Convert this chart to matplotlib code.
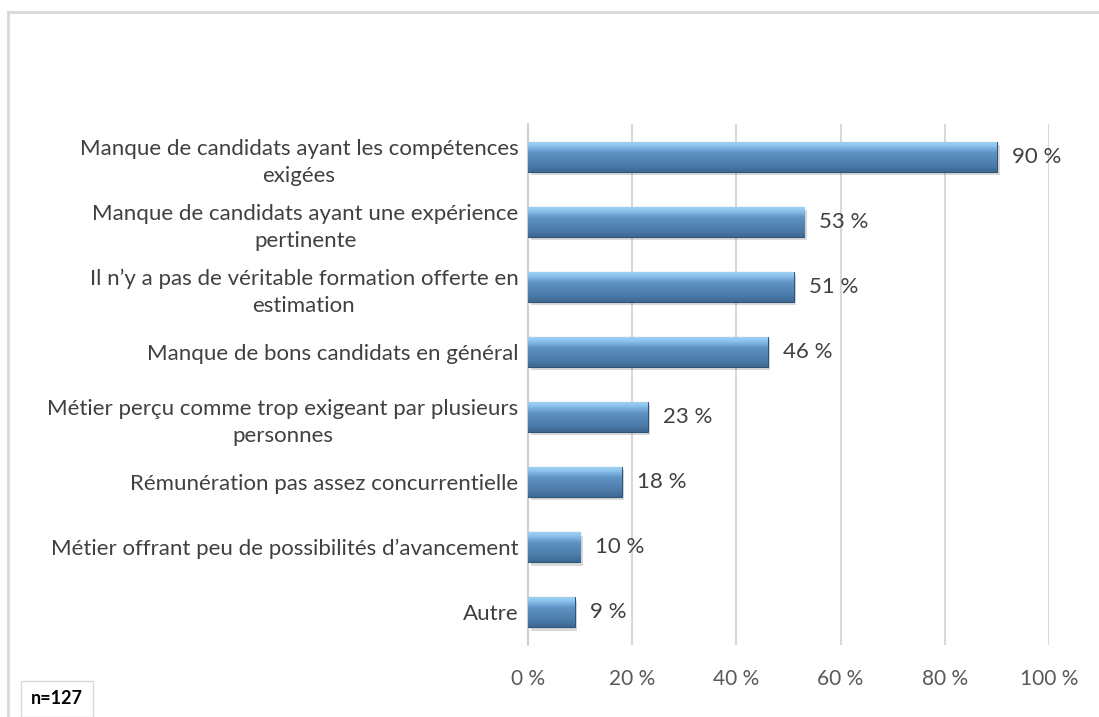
import numpy as np
import matplotlib
matplotlib.use("Agg")
import matplotlib.pyplot as plt
from matplotlib.lines import Line2D
from matplotlib.colors import LinearSegmentedColormap

plt.rcParams['font.family'] = ['Lato', 'DejaVu Sans']

categories = [
    "Manque de candidats ayant les compétences\nexigées",
    "Manque de candidats ayant une expérience\npertinente",
    "Il n\u2019y a pas de véritable formation offerte en\nestimation",
    "Manque de bons candidats en général",
    "Métier perçu comme trop exigeant par plusieurs\npersonnes",
    "Rémunération pas assez concurrentielle",
    "Métier offrant peu de possibilités d\u2019avancement",
    "Autre",
]
values = [90, 53, 51, 46, 23, 18, 10, 9]
value_labels = ["90 %", "53 %", "51 %", "46 %", "23 %", "18 %", "10 %", "9 %"]
xticks = [0, 20, 40, 60, 80, 100]
xtick_labels = ["0 %", "20 %", "40 %", "60 %", "80 %", "100 %"]
note = "n=127"

fig = plt.figure(figsize=(10.99, 7.17), dpi=100)
ax = fig.add_axes([528/1099, 1-645/717, (1049-528)/1099, (645-124)/717])

y = np.arange(len(categories))
bar_h = 0.46

# vertical gradient for the bars (top light -> bottom dark)
grad = LinearSegmentedColormap.from_list(
    "bar", [(0, "#9fd2f5"), (0.12, "#8cc2ec"), (0.35, "#5f93c4"),
            (0.8, "#4a7aa8"), (1, "#3d6890")])
gimg = np.linspace(0, 1, 64).reshape(-1, 1)

for i, v in enumerate(values):
    # shadow
    ax.barh(y[i] + 0.05, v, height=bar_h, left=0.5, color="#000000",
            alpha=0.15, zorder=2, linewidth=0)
    b = ax.barh(y[i], v, height=bar_h, color="#4f81bd", zorder=3,
                edgecolor="#2f5478", linewidth=0.8)[0]
    im = ax.imshow(gimg, cmap=grad, aspect="auto", zorder=3.5,
                   extent=[0, v, y[i] + bar_h/2, y[i] - bar_h/2],
                   origin="upper", interpolation="bicubic")
    im.set_clip_path(b)
    ax.text(v + 2.9, y[i], value_labels[i], va="center", ha="left",
            fontsize=16, color="#404040", zorder=5)

ax.set_xlim(0, 100)
ax.set_ylim(len(categories) - 0.5, -0.5)
ax.set_xticks(xticks)
ax.set_xticklabels(xtick_labels, fontsize=15, color="#595959")
ax.set_yticks(y)
ax.set_yticklabels(categories, fontsize=16, color="#404040", ha="right",
                   multialignment="center", linespacing=1.45)
ax.tick_params(axis="both", length=0)
ax.tick_params(axis="x", pad=17)
ax.tick_params(axis="y", pad=7)
ax.grid(axis="x", color="#d9d9d9", linewidth=1.5, zorder=0)
ax.set_axisbelow(True)
for s in ["top", "right", "bottom"]:
    ax.spines[s].set_visible(False)
ax.spines["left"].set_color("#d0d0d0")
ax.spines["left"].set_linewidth(1.5)

# outer frame (top and left only visible)
fig.add_artist(Line2D([8/1099, 1], [1-12/717, 1-12/717], color="#d9d9d9",
                      linewidth=2, transform=fig.transFigure))
fig.add_artist(Line2D([8/1099, 8/1099], [0, 1-12/717], color="#d9d9d9",
                      linewidth=2, transform=fig.transFigure))

fig.text(57/1099, 1-699/717, note, fontsize=13, fontweight="bold",
         color="#000000", ha="center", va="center",
         bbox=dict(boxstyle="square,pad=0.55", fc="white", ec="#d9d9d9",
                   lw=1))

fig.savefig("out.png", dpi=100, facecolor="white")
